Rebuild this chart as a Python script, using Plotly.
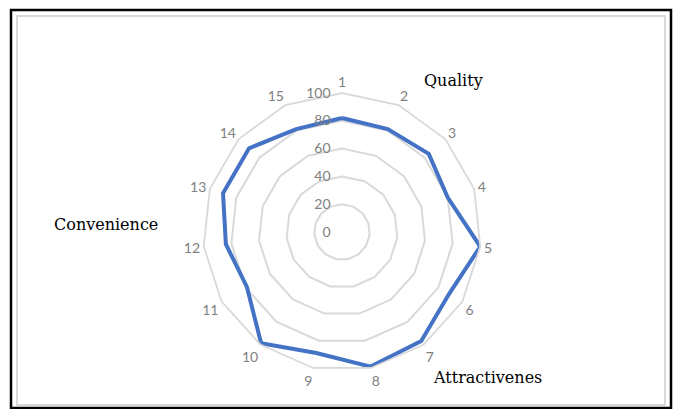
import plotly.graph_objects as go

# ---- data ----
categories = ["1", "2", "3", "4", "5", "6", "7", "8", "9", "10", "11", "12", "13", "14", "15"]
values = [82, 81, 84, 80, 100, 89, 97, 99, 89, 99, 79, 84, 90, 90, 81]
radial_ticks = [0, 20, 40, 60, 80, 100]
group_labels = ["Quality", "Attractivenes", "Convenience"]

W, H = 678, 409
cx, cy, R = 342, 232, 139  # pixel centre / radius of the radar

fig = go.Figure()
fig.add_trace(go.Scatterpolar(
    r=values + values[:1],
    theta=categories + categories[:1],
    mode="lines",
    line=dict(color="#4472C4", width=4),
    hoverinfo="r+theta",
    showlegend=False,
))

grid_col = "#d9d9d9"
fig.update_layout(
    width=W, height=H,
    margin=dict(l=0, r=0, t=0, b=0),
    paper_bgcolor="white",
    plot_bgcolor="white",
    polar=dict(
        domain=dict(x=[(cx - R) / W, (cx + R) / W],
                    y=[(H - cy - R) / H, (H - cy + R) / H]),
        bgcolor="white",
        gridshape="linear",
        radialaxis=dict(
            range=[0, 100],
            tickvals=radial_ticks,
            ticktext=[str(v) for v in radial_ticks],
            angle=90,
            tickangle=90,
            side="counterclockwise",
            showline=False,
            showgrid=True,
            gridcolor=grid_col,
            gridwidth=1.8,
            ticks="outside",
            ticklen=6,
            tickcolor="rgba(0,0,0,0)",
            tickfont=dict(family="Lato", size=14, color="#808080"),
            layer="above traces",
        ),
        angularaxis=dict(
            categoryorder="array",
            categoryarray=categories,
            direction="clockwise",
            rotation=90,
            showgrid=False,
            showline=True,
            linecolor=grid_col,
            linewidth=1.8,
            ticks="",
            tickfont=dict(family="Lato", size=14, color="#808080"),
        ),
    ),
    shapes=[
        dict(type="rect", xref="paper", yref="paper",
             x0=11 / W, x1=671 / W, y0=(H - 408) / H, y1=(H - 10) / H,
             line=dict(color="black", width=2.5), fillcolor="rgba(0,0,0,0)"),
        dict(type="rect", xref="paper", yref="paper",
             x0=17 / W, x1=665 / W, y0=(H - 405) / H, y1=(H - 16) / H,
             line=dict(color=grid_col, width=2), fillcolor="rgba(0,0,0,0)"),
    ],
)

label_pos = [(453, 80), (487, 377), (106, 225)]
for txt, (px, py) in zip(group_labels, label_pos):
    fig.add_annotation(
        x=px / W, y=(H - py) / H, xref="paper", yref="paper",
        text=txt, showarrow=False, xanchor="center", yanchor="middle",
        font=dict(family="DejaVu Serif", size=16, color="black"),
    )

fig.write_html("out.html")
